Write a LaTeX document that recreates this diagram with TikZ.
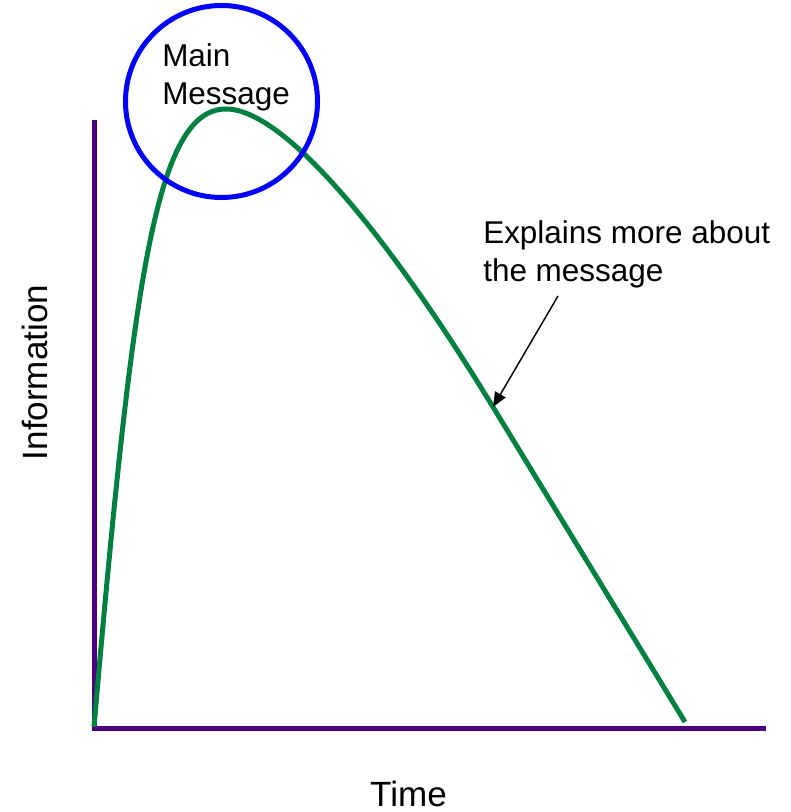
\documentclass[tikz,border=0pt]{standalone}
\usepackage{fontspec}
\setmainfont{Liberation Sans}
\usetikzlibrary{arrows.meta}
\definecolor{axiscol}{RGB}{75,0,130}
\definecolor{curvecol}{RGB}{0,128,64}
\definecolor{circcol}{RGB}{0,0,255}
\begin{document}
\begin{tikzpicture}[x=0.75pt,y=-0.75pt,
  axisline/.style={draw=axiscol,line width=3.75pt},
  curveline/.style={draw=curvecol,line width=3.75pt},
  ringstyle/.style={draw=circcol,line width=3.75pt,circle,minimum size=144pt,inner sep=0pt},
  lbl/.style={font=\fontsize{23.6}{28.5}\selectfont,align=left,inner sep=0pt},
  axlbl/.style={font=\fontsize{26.3}{30}\selectfont,inner sep=0pt},
  pointer/.style={-{Triangle[length=11pt,width=9pt]},line width=1.1pt,black}]
\useasboundingbox (0,0) rectangle (790,812);
% axes
\coordinate (ytop) at (94,120);
\coordinate (orig) at (94,728);
\coordinate (xend) at (766,728);
\draw[axisline] (ytop) -- (orig) -- (xend);
% curve
\coordinate (cstart) at (94,727);
\coordinate (cpeak) at (226,109);
\coordinate (cmid) at (493,407);
\coordinate (cend) at (685,722);
\draw[curveline] (cstart) .. controls (133,277) and (156,109) .. (cpeak)
  .. controls (286,109) and (393,243) .. (cmid) -- (cend);
% circle
\node[ringstyle] (ring) at (221.5,101.5) {};
% labels
\node[lbl,anchor=north west] (mainmsg) at (162,43) {Main\\Message};
\node[lbl,anchor=north west] (explain) at (483,220) {Explains more about\\the message};
\node[axlbl,anchor=base] (timelbl) at (408.5,806.5) {Time};
\node[axlbl,anchor=base,rotate=90] (infolbl) at (47,372.5) {Information};
% pointer
\coordinate (arrstart) at (558,296);
\draw[pointer] (arrstart) -- (cmid);
\end{tikzpicture}
\end{document}
